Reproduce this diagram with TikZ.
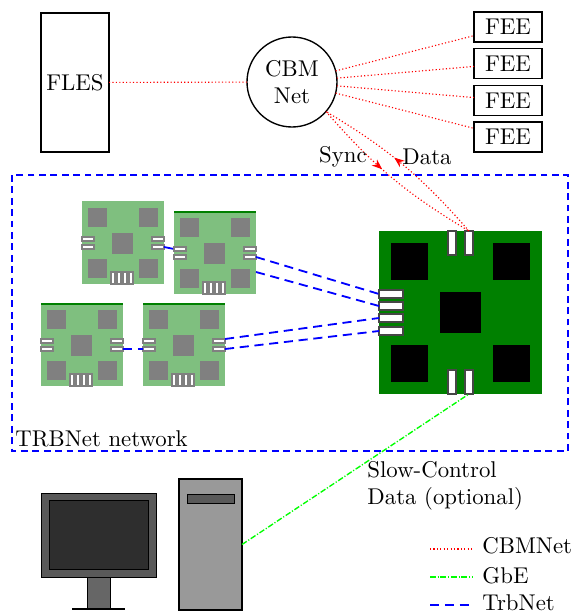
\documentclass[tikz,border=0pt]{standalone}
\usetikzlibrary{arrows.meta,decorations.markings}

\definecolor{boardgreen}{RGB}{0,128,0}
\definecolor{boardlight}{RGB}{127,191,127}
\definecolor{chipgray}{RGB}{128,128,128}
\definecolor{portgray}{RGB}{70,70,70}
\definecolor{linkred}{RGB}{255,0,0}
\definecolor{linkgreen}{RGB}{0,255,0}
\definecolor{linkblue}{RGB}{0,0,255}

% one drawing unit
\newcommand{\pxu}{0.4386pt}

\tikzset{
  unitbox/.style={draw, line width=0.6pt, inner sep=0pt, outer sep=0pt},
  portbox/.style={fill=white, line width=0.5pt, inner sep=0pt, outer sep=0pt},
  hport/.style={portbox, draw=chipgray, minimum width=12*\pxu, minimum height=4*\pxu},
  bighport/.style={portbox, draw=portgray, minimum width=24*\pxu, minimum height=8*\pxu},
  bigvport/.style={portbox, draw=portgray, minimum width=8*\pxu, minimum height=24*\pxu},
  cbmlink/.style={draw=linkred, densely dotted, line width=0.5pt},
  gbelink/.style={draw=linkgreen, line width=0.6pt, dash pattern=on 2.5pt off 0.8pt on 0.5pt off 0.8pt},
  trblink/.style={draw=linkblue, line width=0.8pt, dash pattern=on 4pt off 2.5pt},
  trbframe/.style={draw=linkblue, line width=0.8pt, densely dashed},
  midarrow/.style={postaction={decorate}, decoration={markings,
      mark=at position #1 with {\arrow[linkred]{Stealth[length=4.5pt,width=3.5pt]}}}},
  % small front-end board; the argument colours its top edge
  pics/smallboard/.style={code={
    \fill[boardlight] (0,0) rectangle (82,82);
    \draw[#1, line width=0.6pt] (0,0) -- (82,0);
    \foreach \cx/\cy in {6/6,57/6,6/57,57/57}
      \fill[chipgray] (\cx,\cy) rectangle ++(19,19);
    \fill[chipgray] (30,31) rectangle (51,52);
    \node[hport] (-l1) at (6,37) {};
    \node[hport] (-l2) at (6,45) {};
    \node[hport] (-r1) at (76,37) {};
    \node[hport] (-r2) at (76,45) {};
    \coordinate (-tap) at (82,60);
    \foreach \k in {0,...,3}
      \filldraw[fill=white, draw=chipgray, line width=0.5pt] (29+6*\k,70) rectangle ++(4,12);
  }},
  % central hub board
  pics/bigboard/.style={code={
    \fill[boardgreen] (0,0) rectangle (163,163);
    \foreach \cx/\cy in {12/12,114/12,12/114,114/114}
      \fill[black] (\cx,\cy) rectangle ++(37,37);
    \fill[black] (61,61) rectangle (102,102);
    \node[bigvport] (-t1) at (73,12) {};
    \node[bigvport] (-t2) at (90,12) {};
    \node[bigvport] (-b1) at (73,151) {};
    \node[bigvport] (-b2) at (90,151) {};
    \node[bighport] (-l1) at (12,63) {};
    \node[bighport] (-l2) at (12,75) {};
    \node[bighport] (-l3) at (12,87) {};
    \node[bighport] (-l4) at (12,100) {};
  }}
}

\begin{document}
\begin{tikzpicture}[x=\pxu, y=-\pxu]
\useasboundingbox (0,0) rectangle (571,612);

% upstream systems
\node[unitbox, minimum width=68*\pxu, minimum height=139*\pxu] (fles) at (75,82.5) {FLES};
\node[unitbox, circle, minimum size=90*\pxu, align=center] (cbm) at (292,82) {CBM\\Net};
\foreach \i/\yy in {1/27,2/63.5,3/100.5,4/137}
  \node[unitbox, minimum width=68*\pxu, minimum height=30*\pxu] (fee\i) at (508,\yy) {FEE};

\draw[cbmlink] (fles) -- (cbm);
\foreach \i in {1,...,4}
  \draw[cbmlink] (cbm) -- (fee\i);

% TRBNet network
\draw[trbframe] (12,175) rectangle (568,451);
\node[anchor=base west, inner sep=0pt] (trblabel) at (15,446) {TRBNet network};

\pic (A) at (82,202) {smallboard=boardlight};
\pic (B) at (174,212) {smallboard=boardgreen};
\pic (C) at (41,304) {smallboard=boardgreen};
\pic (D) at (143,304) {smallboard=boardgreen};
\pic (big) at (379,231) {bigboard};

\draw[trblink] (A-r2.east) -- (B-l1.west);
\draw[trblink] (C-r2.east) -- (D-l2.west);
\draw[trblink] (B-r2.east) -- (big-l1.west);
\draw[trblink] (B-tap) -- (big-l2.west);
\draw[trblink] (D-r1.north east) -- (big-l3.west);
\draw[trblink] (D-r2.east) -- (big-l4.west);

% sync and data paths
\draw[cbmlink, midarrow=0.43] (cbm.-41) to[bend right=9] (big-t2.north);
\draw[cbmlink, midarrow=0.56] (big-t2.north) to[bend right=9] (cbm.-41);
\node (sync) at (343,157) {Sync};
\node (data) at (427,157) {Data};

% control PC
\draw[fill=black!65, line width=0.4pt] (41,493) rectangle (156,577);
\draw[fill=black!82, line width=0.4pt] (49,500) rectangle (148,569);
\draw[fill=black!60, line width=0.4pt] (87,577) rectangle (110,608);
\draw[line width=1.2pt] (72,609) -- (125,609);
\node[draw, line width=1pt, fill=black!40, minimum width=63*\pxu, minimum height=131*\pxu,
      inner sep=0pt, outer sep=0pt] (tower) at (210.5,544.5) {};
\draw[fill=black!65, line width=0.4pt] (187,494) rectangle (234,503);

\draw[gbelink] (tower.east) -- (big-b2.south);
\node[anchor=north west, inner sep=0pt, align=left] (slowctl) at (367,461)
  {Slow-Control\\Data (optional)};

% legend
\draw[cbmlink] (430,549) -- (472,549);
\node[anchor=base west, inner sep=0pt] (legcbm) at (482,553) {CBMNet};
\draw[gbelink] (430,577) -- (472,577);
\node[anchor=base west, inner sep=0pt] (leggbe) at (482,583) {GbE};
\draw[trblink] (430,605) -- (472,605);
\node[anchor=base west, inner sep=0pt] (legtrb) at (482,610) {TrbNet};
\end{tikzpicture}
\end{document}
